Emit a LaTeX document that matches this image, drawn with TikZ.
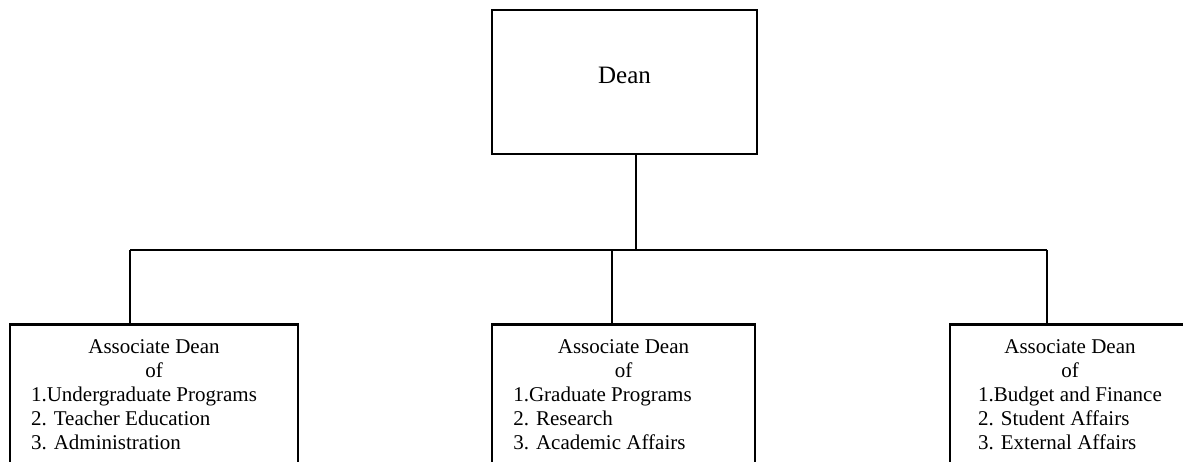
\documentclass[tikz,border=0pt]{standalone}
\usepackage{fontspec}
\setmainfont{Liberation Serif}
% header centred, numbered list left aligned below it
\newcommand{\assocdean}[4]{%
  \begin{tabular}[t]{@{}c@{}}Associate Dean\\of\\
  \begin{tabular}[t]{@{}l@{}}#2\\#3\\#4\end{tabular}\hspace*{#1}\end{tabular}}
\begin{document}
\begin{tikzpicture}[x=1pt,y=-1pt,
    office/.style={draw, line width=2.6pt, inner sep=0pt},
    assoc/.style={office, anchor=north, inner ysep=12pt, text depth=200pt,
      font=\fontsize{21}{24}\selectfont},
    link/.style={line width=2.6pt}]
  \useasboundingbox (0,0) rectangle (1183,462);

  \node[office, minimum width=265pt, minimum height=144pt, text depth=14pt,
    font=\fontsize{25}{29}\selectfont] (dean) at (624.5,82) {Dean};

  \node[assoc, minimum width=288pt] (ugrad) at (154,323)
    {\assocdean{20pt}{1.Undergraduate Programs}{2. Teacher Education}{3. Administration}};
  \node[assoc, minimum width=263pt] (grad) at (623.5,323)
    {\assocdean{42pt}{1.Graduate Programs}{2. Research}{3. Academic Affairs}};
  \node[assoc, minimum width=240pt] (budget) at (1070,323)
    {\assocdean{0pt}{1.Budget and Finance}{2. Student Affairs}{3. External Affairs}};

  \coordinate (fork) at (636,250);
  \coordinate (lfork) at (130,250);
  \coordinate (mfork) at (612,250);
  \coordinate (rfork) at (1047,250);

  \draw[link] (dean.south -| fork) -- (fork);
  \draw[link] (lfork) -- (rfork);
  \draw[link] (lfork) -- (lfork |- ugrad.north);
  \draw[link] (mfork) -- (mfork |- grad.north);
  \draw[link] (rfork) -- (rfork |- budget.north);
\end{tikzpicture}
\end{document}
